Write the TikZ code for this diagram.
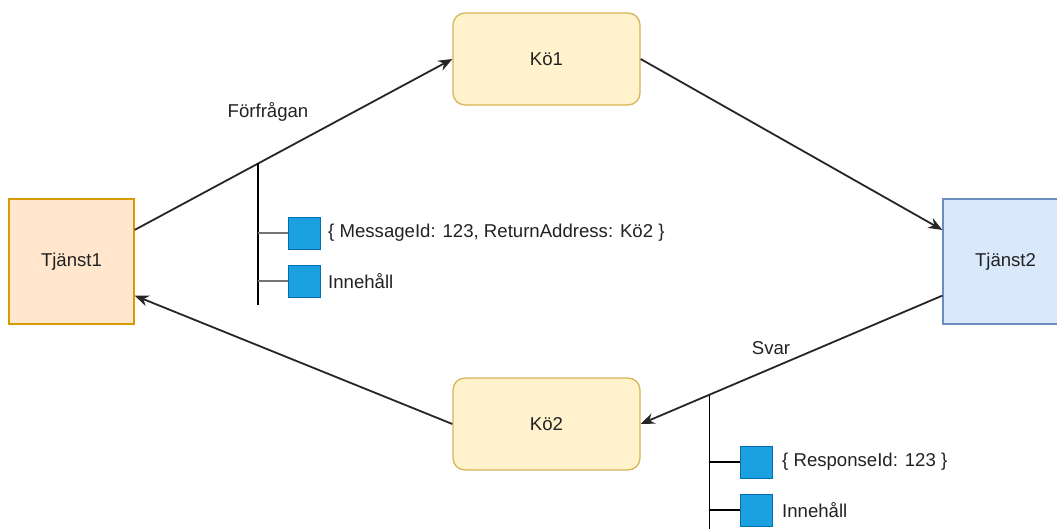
\documentclass[tikz,border=0pt]{standalone}
\usepackage{fontspec}
\setmainfont{Liberation Sans}
\usetikzlibrary{arrows.meta,calc}
\definecolor{peachfill}{HTML}{FFE6CC}
\definecolor{peachline}{HTML}{D79B00}
\definecolor{queuefill}{HTML}{FFF2CC}
\definecolor{queueline}{HTML}{D6B656}
\definecolor{bluefill}{HTML}{DAE8FC}
\definecolor{blueline}{HTML}{6C8EBF}
\definecolor{fieldfill}{HTML}{1BA1E2}
\definecolor{fieldline}{HTML}{006EAF}
\definecolor{textcol}{HTML}{222222}
\tikzset{
  x=1pt, y=-1pt,
  every node/.style={font=\fontsize{18.6}{21}\selectfont, text=textcol},
  service/.style={draw, line width=1.3pt, minimum width=125pt, minimum height=125pt, inner sep=0pt},
  queue/.style={draw=queueline, fill=queuefill, line width=1.3pt, rounded corners=12pt,
    minimum width=187pt, minimum height=92pt, inner sep=0pt},
  flow/.style={draw=black!85, line width=1.8pt, -{Stealth[length=14pt,width=11pt]}},
  field/.style={draw=fieldline, fill=fieldfill, line width=1pt, minimum size=32pt, inner sep=0pt},
  fieldtext/.style={anchor=west, inner sep=0pt},
  stem/.style={draw=black, line width=1.8pt},
  branchgray/.style={draw=black!55, line width=2.6pt},
  branchblack/.style={draw=black, line width=1.8pt},
  lbl/.style={inner sep=0pt}
}
\begin{document}
\begin{tikzpicture}
\clip (0,0) rectangle (1057,528);
\fill[white] (0,0) rectangle (1057,528);

% services and queues
\node[service, draw=peachline, fill=peachfill] (t1) at (71.5,261.5) {Tjänst1};
\node[service, draw=blueline, fill=bluefill] (t2) at (1005.5,261.5) {Tjänst2};
\node[queue] (k1) at (546.5,59) {Kö1};
\node[queue] (k2) at (546.5,424) {Kö2};

% message flow
\draw[flow] ($(t1.north east)!0.25!(t1.south east)$) -- coordinate[pos=0.389] (reqfork) (k1.west);
\draw[flow] (k1.east) -- ($(t2.north west)!0.25!(t2.south west)$);
\draw[flow] ($(t2.north west)!0.77!(t2.south west)$) -- coordinate[pos=0.772] (resfork) (k2.east);
\draw[flow] (k2.west) -- ($(t1.north east)!0.77!(t1.south east)$);

\node[lbl] (reqlabel) at (268,112) {Förfrågan};
\node[lbl] (reslabel) at (771,348) {Svar};

% request message contents
\coordinate (reqend) at (reqfork |- 0,305);
\draw[stem] (reqfork) -- (reqend);
\node[field] (rq1) at (304,233) {};
\node[field] (rq2) at (304,281) {};
\draw[branchgray] (reqfork |- rq1) -- (rq1.west);
\draw[branchgray] (reqfork |- rq2) -- (rq2.west);
\node[fieldtext] (rq1t) at (328,233) {\{ MessageId: 123, ReturnAddress: Kö2 \}};
\node[fieldtext] (rq2t) at (328,281) {Innehåll};

% response message contents
\coordinate (resend) at (resfork |- 0,540);
\draw[stem] (resfork) -- (resend);
\node[field] (rs1) at (756,462) {};
\node[field] (rs2) at (756,510) {};
\draw[branchblack] (resfork |- rs1) -- (rs1.west);
\draw[branchblack] (resfork |- rs2) -- (rs2.west);
\node[fieldtext] (rs1t) at (782,462) {\{ ResponseId: 123 \}};
\node[fieldtext] (rs2t) at (782,510) {Innehåll};
\end{tikzpicture}
\end{document}
